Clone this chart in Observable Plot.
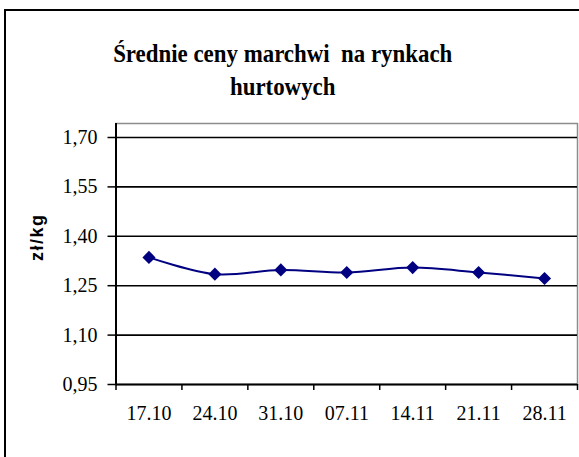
<!DOCTYPE html>
<html>
<head>
<meta charset="utf-8">
<script src="https://cdn.jsdelivr.net/npm/d3@7"></script>
<script src="https://cdn.jsdelivr.net/npm/@observablehq/plot@0.6"></script>
<style>
  html, body { margin: 0; padding: 0; background: #fff; }
  #wrap { position: relative; width: 579px; height: 457px; overflow: hidden; background: #fff; }
  #frame { position: absolute; left: 4px; top: 9px; right: -4px; bottom: -4px;
           border-left: 2px solid #000; border-top: 2px solid #000; pointer-events: none; }
  #title { height: 110px; box-sizing: border-box; padding-top: 37px; padding-right: 13px;
           text-align: center; font-family: "Liberation Serif", "Times New Roman", serif;
           font-weight: bold; font-size: 26px; line-height: 33px; white-space: pre-wrap; color: #000; }
  #title span { display: inline-block; transform: scaleX(0.88); transform-origin: center; }
  svg { display: block; }
</style>
</head>
<body>
<div id="wrap">
  <div id="title"><span>Średnie ceny marchwi  na rynkach<br>hurtowych</span></div>
  <div id="chart"></div>
  <div id="frame"></div>
</div>
<script>
const dates = ["17.10", "24.10", "31.10", "07.11", "14.11", "21.11", "28.11"];
const prices = [1.336, 1.285, 1.298, 1.290, 1.305, 1.290, 1.272];
const yTicks = [0.95, 1.10, 1.25, 1.40, 1.55, 1.70];
const yLabel = "zł/kg";

const data = dates.map((d, i) => ({date: d, idx: i + 0.5, price: prices[i]}));
const fmtY = d => d.toFixed(2).replace(".", ",");
const serif = "Liberation Serif, Times New Roman, serif";

const chart = Plot.plot({
  width: 579,
  height: 347,
  marginLeft: 115.5,
  marginRight: 2,
  marginTop: 27,
  marginBottom: 73,
  style: {fontFamily: serif, fontSize: "20px", background: "transparent", overflow: "visible", color: "#000"},
  x: {type: "linear", domain: [0, dates.length], axis: null},
  y: {domain: [0.95, 1.70], axis: null},
  marks: [
    Plot.frame({stroke: "#8c8c8c", strokeWidth: 1.5, insetTop: -14}),
    Plot.ruleY(yTicks.slice(1), {stroke: "#000", strokeWidth: 1.6}),
    Plot.axisY({ticks: yTicks, tickSize: 8, tickPadding: 10.5, tickFormat: fmtY,
                fontSize: 20, fontFamily: serif, stroke: "#000", strokeWidth: 1.5, label: null}),
    Plot.axisX({ticks: d3.range(0, dates.length + 1), tickSize: 6, tickFormat: () => "",
                stroke: "#000", strokeWidth: 1.5, label: null}),
    Plot.axisX({ticks: data.map(d => d.idx), tickSize: 0, tickPadding: 21,
                tickFormat: v => dates[Math.floor(v)], fontSize: 20, fontFamily: serif, label: null}),
    Plot.ruleX([0], {stroke: "#000", strokeWidth: 2, insetTop: -14}),
    Plot.ruleY([0.95], {stroke: "#000", strokeWidth: 2}),
    Plot.text([yLabel], {frameAnchor: "left", rotate: -90, dx: -79, text: d => d,
                         fontFamily: "Liberation Sans, Arial, sans-serif", fontWeight: "bold",
                         fontSize: 18, fill: "#000"}),
    Plot.line(data, {x: "idx", y: "price", stroke: "#000080", strokeWidth: 2, curve: "catmull-rom"}),
    Plot.dot(data, {x: "idx", y: "price", symbol: "diamond2", r: 5.9, fill: "#000080", stroke: "none"})
  ]
});
chart.querySelectorAll("text").forEach(t => {
  if (t.textContent === yLabel) t.setAttribute("letter-spacing", "1.5");
});
document.getElementById("chart").appendChild(chart);
</script>
</body>
</html>
